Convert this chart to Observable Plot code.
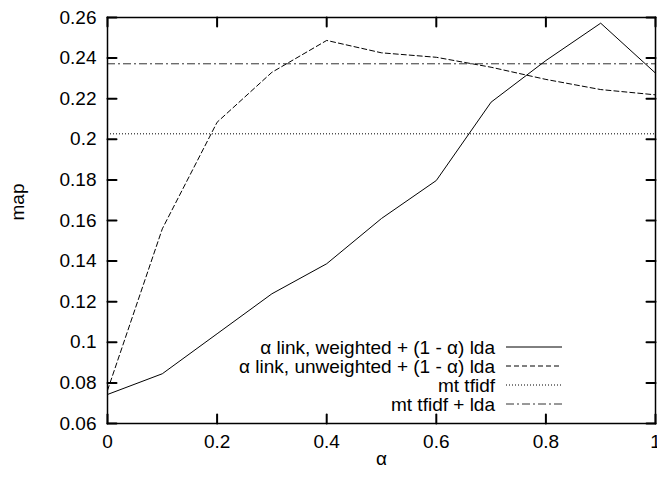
<!DOCTYPE html>
<html>
<head>
<meta charset="utf-8">
<script src="https://cdn.jsdelivr.net/npm/d3@7"></script>
<script src="https://cdn.jsdelivr.net/npm/@observablehq/plot@0.6"></script>
<style>
  html, body { margin: 0; padding: 0; background: #fff; }
  #chart svg { display: block; }
</style>
</head>
<body>
<div id="chart"></div>
<script>
// ---- data ----
const alphas = [0, 0.1, 0.2, 0.3, 0.4, 0.5, 0.6, 0.7, 0.8, 0.9, 1.0];
const weighted = [0.0743, 0.0845, 0.1042, 0.1239, 0.1387, 0.1610, 0.1797, 0.2183, 0.2388, 0.2572, 0.2326];
const unweighted = [0.0763, 0.1559, 0.2084, 0.2330, 0.2487, 0.2426, 0.2404, 0.2355, 0.2295, 0.2245, 0.2219];
const mtTfidf = 0.2027;
const mtTfidfLda = 0.2372;
const seriesNames = [
  "\u03b1 link, weighted + (1 - \u03b1) lda",
  "\u03b1 link, unweighted + (1 - \u03b1) lda",
  "mt tfidf",
  "mt tfidf + lda"
];
const xTicks = [0, 0.2, 0.4, 0.6, 0.8, 1];
const yTicks = [0.06, 0.08, 0.10, 0.12, 0.14, 0.16, 0.18, 0.20, 0.22, 0.24, 0.26];
const xDomain = [0, 1];
const yDomain = [0.06, 0.26];

// ---- styles ----
const FONT = "'Liberation Sans', Arial, Helvetica, sans-serif";
const FS = 19;
const dashes = [null, "5,3", "1,2", "8,3,2,3"];
const strokes = ["#000", "#000", "#000", "#333"];
const W = 657, H = 480, ML = 107, MR = 2, MT = 17, MB = 57;
const TX = 9, TY = 9; // inward tick lengths in px

const tyLen = TX / (H - MT - MB) * (yDomain[1] - yDomain[0]);
const txLen = TY / (W - ML - MR) * (xDomain[1] - xDomain[0]);
const tickRows = [
  ...xTicks.map(t => ({x1: t, x2: t, y1: yDomain[0], y2: yDomain[0] + tyLen})),
  ...xTicks.map(t => ({x1: t, x2: t, y1: yDomain[1], y2: yDomain[1] - tyLen})),
  ...yTicks.map(t => ({x1: xDomain[0], x2: xDomain[0] + txLen, y1: t, y2: t})),
  ...yTicks.map(t => ({x1: xDomain[1], x2: xDomain[1] - txLen, y1: t, y2: t}))
];

const rowsW = alphas.map((a, i) => ({x: a, y: weighted[i]}));
const rowsU = alphas.map((a, i) => ({x: a, y: unweighted[i]}));
const fmt = d => String(+d.toFixed(2));

const plot = Plot.plot({
  width: W,
  height: H,
  marginLeft: ML,
  marginRight: MR,
  marginTop: MT,
  marginBottom: MB,
  style: {fontFamily: FONT, fontSize: FS + "px", color: "#000", background: "#fff", overflow: "visible"},
  x: {domain: xDomain},
  y: {domain: yDomain},
  marks: [
    Plot.ruleY([mtTfidf], {stroke: strokes[2], strokeWidth: 1, strokeDasharray: dashes[2]}),
    Plot.ruleY([mtTfidfLda], {stroke: strokes[3], strokeWidth: 1, strokeDasharray: dashes[3]}),
    Plot.line(rowsU, {x: "x", y: "y", stroke: strokes[1], strokeWidth: 1, strokeDasharray: dashes[1]}),
    Plot.line(rowsW, {x: "x", y: "y", stroke: strokes[0], strokeWidth: 1}),
    // inward ticks on all four sides (gnuplot style)
    Plot.line(tickRows.flatMap((r, i) => [{x: r.x1, y: r.y1, k: i}, {x: r.x2, y: r.y2, k: i}]),
      {x: "x", y: "y", z: "k", stroke: "#000", strokeWidth: 2}),
    // tick labels
    Plot.axisX({anchor: "bottom", ticks: xTicks, tickSize: 0, tickPadding: 11, tickFormat: fmt, label: null, fontSize: FS}),
    Plot.axisY({anchor: "left", ticks: yTicks, tickSize: 0, tickPadding: 11, tickFormat: fmt, label: null, fontSize: FS}),
    Plot.frame({stroke: "#000", strokeWidth: 1.5}),
    // axis titles
    Plot.text(["\u03b1"], {frameAnchor: "bottom", dy: 41, fontSize: FS, fill: "#000"}),
    Plot.text(["map"], {frameAnchor: "left", dx: -90, rotate: -90, fontSize: FS, fill: "#000"})
  ]
});

document.getElementById("chart").appendChild(plot);

// legend (inside the frame, lower right)
const svg = d3.select(plot);
const rowY = [347, 366, 385, 404];
const lg = svg.append("g").attr("font-family", FONT).attr("font-size", FS);
seriesNames.forEach((name, i) => {
  lg.append("text")
    .attr("x", 495).attr("y", rowY[i]).attr("dy", "0.35em")
    .attr("text-anchor", "end").attr("fill", "#000")
    .text(name);
  lg.append("line")
    .attr("x1", 506).attr("x2", 562)
    .attr("y1", rowY[i]).attr("y2", rowY[i])
    .attr("stroke", strokes[i])
    .attr("stroke-width", 1)
    .attr("stroke-dasharray", dashes[i]);
});
</script>
</body>
</html>
